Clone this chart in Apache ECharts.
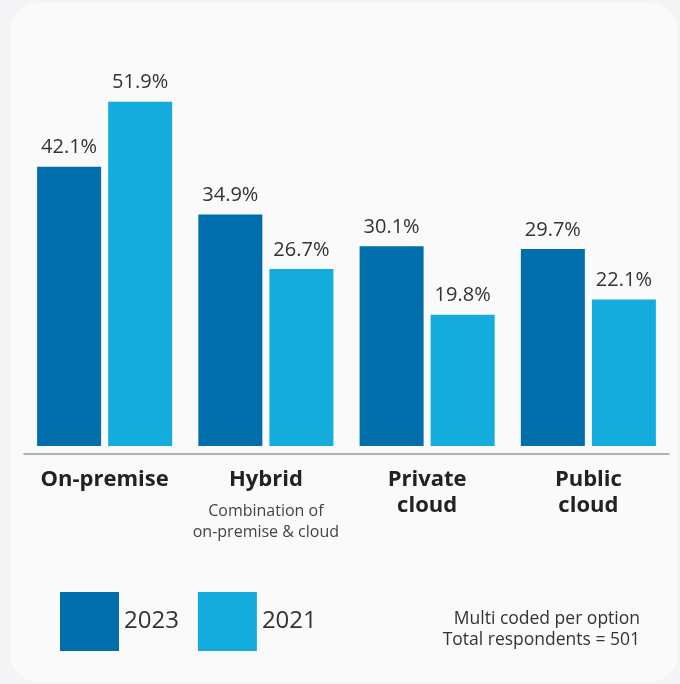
<!DOCTYPE html>
<html>
<head>
<meta charset="utf-8">
<script src="https://cdn.jsdelivr.net/npm/echarts@6/dist/echarts.min.js"></script>
<style>
  html, body { margin: 0; padding: 0; background: #f4f4f6; }
  #chart { width: 680px; height: 684px; }
</style>
</head>
<body>
<div id="chart"></div>
<script>
// Deployment options and share of respondents (%)
const categories = ['On-premise', 'Hybrid', 'Private cloud', 'Public cloud'];
const subtitles = ['', 'Combination of\non-premise & cloud', '', ''];
const values2023 = [42.1, 34.9, 30.1, 29.7];
const values2021 = [51.9, 26.7, 19.8, 22.1];
const seriesNames = ['2023', '2021'];
const noteLines = ['Multi coded per option', 'Total respondents = 501'];

const FONT = '"Open Sans", "Noto Sans", sans-serif';
const DARK = '#006eaa';
const LIGHT = '#14abdd';

const chart = echarts.init(document.getElementById('chart'), null, { renderer: 'canvas' });

const valueLabel = {
  show: true,
  position: 'top',
  distance: 9,
  formatter: p => p.value.toFixed(1) + '%',
  fontFamily: FONT,
  fontSize: 20,
  color: '#333'
};

chart.setOption({
  backgroundColor: '#f4f4f6',
  animation: false,
  textStyle: { fontFamily: FONT },
  graphic: [
    {
      type: 'rect',
      z: -10,
      silent: true,
      shape: { x: 10, y: 3, width: 668, height: 679, r: 28 },
      style: { fill: '#fafafa' }
    },
    {
      type: 'text',
      x: 640,
      y: 609,
      style: {
        text: noteLines.join('\n'),
        fontFamily: FONT,
        fontSize: 17.5,
        lineHeight: 21,
        fill: '#333',
        align: 'right',
        verticalAlign: 'top'
      }
    }
  ],
  legend: {
    data: seriesNames,
    left: 55,
    top: 587,
    icon: 'rect',
    itemWidth: 59,
    itemHeight: 59,
    itemGap: 19,
    textStyle: { fontFamily: FONT, fontSize: 24, color: '#333' }
  },
  grid: { left: 24, right: 11, top: 48, bottom: 238 },
  xAxis: [
    {
      type: 'category',
      data: categories,
      offset: 8,
      axisLine: { show: true, onZero: false, lineStyle: { color: '#9a9a9a', width: 1.5 } },
      axisTick: { show: false },
      axisLabel: {
        margin: 13,
        interval: 0,
        formatter: v => v.split(' ').map(w => '{b|' + w + '}').join('\n'),
        rich: {
          b: { fontFamily: FONT, fontSize: 22, fontWeight: 'bold', lineHeight: 26, color: '#222' }
        }
      }
    },
    {
      type: 'category',
      data: categories,
      position: 'bottom',
      offset: 8,
      axisLine: { show: false, onZero: false },
      axisTick: { show: false },
      axisLabel: {
        margin: 47,
        interval: 0,
        formatter: (v, i) => subtitles[i] ? subtitles[i].split('\n').map(s => '{s|' + s + '}').join('\n') : '',
        rich: {
          s: { fontFamily: FONT, fontSize: 16, lineHeight: 21, color: '#444' }
        }
      }
    }
  ],
  yAxis: {
    type: 'value',
    min: 0,
    max: 60,
    show: false,
    splitLine: { show: false }
  },
  series: [
    {
      name: seriesNames[0],
      type: 'bar',
      data: values2023,
      barWidth: 64,
      barGap: '11%',
      itemStyle: { color: DARK },
      label: valueLabel
    },
    {
      name: seriesNames[1],
      type: 'bar',
      data: values2021,
      barWidth: 64,
      barGap: '11%',
      itemStyle: { color: LIGHT },
      label: valueLabel
    }
  ]
});
</script>
</body>
</html>
